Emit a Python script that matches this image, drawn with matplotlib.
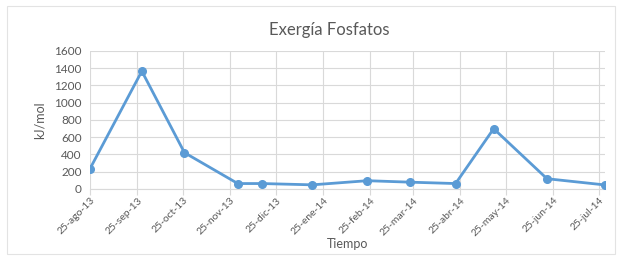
import matplotlib.pyplot as plt
import matplotlib.dates as mdates
from matplotlib.patches import Rectangle
from datetime import date

# datos
fechas = [date(2013, 8, 25), date(2013, 9, 28), date(2013, 10, 26), date(2013, 11, 30),
          date(2013, 12, 16), date(2014, 1, 18), date(2014, 2, 23), date(2014, 3, 23),
          date(2014, 4, 22), date(2014, 5, 17), date(2014, 6, 21), date(2014, 7, 29)]
exergia = [235, 1365, 420, 62, 62, 47, 95, 78, 62, 698, 118, 46]

ticks_fechas = [date(2013, 8, 25), date(2013, 9, 25), date(2013, 10, 25), date(2013, 11, 25),
                date(2013, 12, 25), date(2014, 1, 25), date(2014, 2, 25), date(2014, 3, 25),
                date(2014, 4, 25), date(2014, 5, 25), date(2014, 6, 25), date(2014, 7, 25)]
ticks_etiquetas = ["25-ago-13", "25-sep-13", "25-oct-13", "25-nov-13", "25-dic-13", "25-ene-14",
                   "25-feb-14", "25-mar-14", "25-abr-14", "25-may-14", "25-jun-14", "25-jul-14"]
y_ticks = [0, 200, 400, 600, 800, 1000, 1200, 1400, 1600]

plt.rcParams['font.family'] = ['Lato', 'DejaVu Sans']
gris = '#595959'
azul = '#5B9BD5'
rejilla = '#D9D9D9'

fig = plt.figure(figsize=(6.21, 2.57), dpi=100)
fig.patches.append(Rectangle((0.012, 0.01), 0.978, 0.965, transform=fig.transFigure,
                             fill=False, edgecolor='#E3E3E3', linewidth=0.8))
ax = fig.add_axes([0.145, 0.265, 0.829, 0.537])

ax.plot(fechas, exergia, color=azul, linewidth=2, marker='o', markersize=5.5, zorder=3)

ax.set_ylim(0, 1600)
ax.set_yticks(y_ticks)
ax.set_xlim(mdates.date2num(date(2013, 8, 25)), mdates.date2num(date(2014, 7, 29)))
ax.set_xticks(mdates.date2num(ticks_fechas))
ax.set_xticklabels(ticks_etiquetas, rotation=45, ha='right', rotation_mode='anchor')

ax.grid(True, color=rejilla, linewidth=0.8)
ax.set_axisbelow(True)
for lado in ['top', 'right', 'left']:
    ax.spines[lado].set_visible(False)
ax.spines['bottom'].set_color(rejilla)

ax.tick_params(axis='y', length=0, labelsize=8.5, colors=gris, pad=6)
ax.tick_params(axis='x', length=4, color=rejilla, labelsize=7.5, labelcolor=gris, pad=1)

ax.set_ylabel('kJ/mol', fontsize=9, color=gris, labelpad=6)
ax.set_xlabel('Tiempo', fontsize=9, color=gris, labelpad=0)
fig.text(0.53, 0.885, 'Exergía Fosfatos', ha='center', va='center', fontsize=12, color=gris)

fig.savefig('out.png', dpi=100)
